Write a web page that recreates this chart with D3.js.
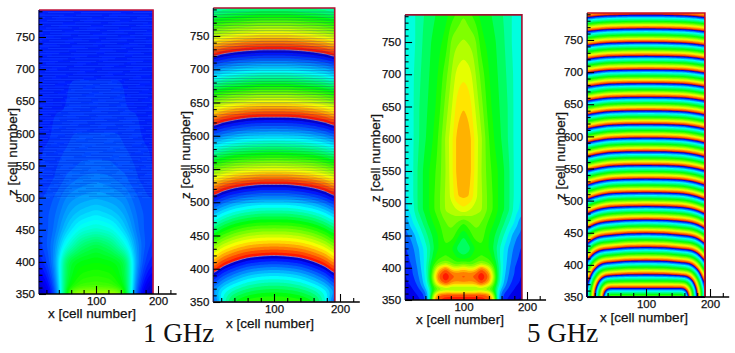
<!DOCTYPE html>
<html>
<head>
<meta charset="utf-8">
<script src="https://cdn.jsdelivr.net/npm/d3@7"></script>
<style>
  html, body { margin: 0; padding: 0; background: #fff; }
  svg { display: block; }
  .tick-label, .axis-label { font-family: "Liberation Sans", Arial, sans-serif; fill: #111; stroke: #111; stroke-width: .25px; }
  .freq-label { font-family: "Liberation Serif", serif; fill: #111; }
</style>
</head>
<body>
<script>
// ---- data ----
// 1 GHz amplitude (colour level, half of the symmetric domain, x = 8..100)
const amp1X = [8, 18, 26, 34, 42, 50, 60, 75, 100];
const amp1Z = [350, 360, 380, 400, 425, 450, 475, 500, 525, 550, 600, 650, 700, 750, 792];
const amp1Values = [
  [.02, .04, .10, .15, .27, .44, .66, .70, .70],
  [.05, .07, .12, .17, .29, .44, .52, .56, .57],
  [.09, .11, .15, .20, .30, .43, .48, .52, .53],
  [.12, .14, .17, .22, .30, .42, .47, .49, .50],
  [.14, .16, .18, .21, .26, .31, .35, .41, .45],
  [.15, .16, .17, .19, .22, .25, .28, .32, .34],
  [.15, .16, .17, .18, .20, .22, .24, .26, .28],
  [.15, .15, .16, .17, .18, .20, .21, .22, .23],
  [.14, .14, .15, .15, .16, .17, .18, .19, .20],
  [.13, .14, .14, .15, .15, .16, .16, .17, .17],
  [.13, .13, .13, .14, .14, .14, .15, .15, .15],
  [.12, .12, .13, .13, .13, .13, .14, .14, .14],
  [.12, .12, .12, .12, .13, .13, .13, .13, .13],
  [.12, .12, .12, .12, .12, .12, .12, .12, .12],
  [.12, .12, .12, .12, .12, .12, .12, .12, .12]
];

// 1 GHz phase, unwrapped: whole numbers are the red/blue jumps
const phase1X = [8, 20, 40, 60, 80, 100];
const phase1Z = [350, 365, 392, 420, 470, 527, 570, 628, 670, 729, 760, 792];
const phase1Values = [
  [4.06, 4.32, 4.52, 4.58, 4.60, 4.60],
  [4.20, 4.31, 4.40, 4.46, 4.49, 4.50],
  [4.00, 4.09, 4.17, 4.23, 4.26, 4.27],
  [3.76, 3.85, 3.92, 3.97, 3.99, 4.00],
  [3.34, 3.41, 3.48, 3.52, 3.54, 3.54],
  [2.84, 2.90, 2.95, 2.98, 3.00, 3.00],
  [2.43, 2.47, 2.51, 2.53, 2.54, 2.55],
  [1.87, 1.92, 1.96, 1.99, 2.00, 2.00],
  [1.47, 1.51, 1.54, 1.56, 1.58, 1.58],
  [0.90, 0.94, 0.97, 0.99, 1.00, 1.00],
  [0.62, 0.65, 0.68, 0.70, 0.72, 0.72],
  [0.36, 0.38, 0.39, 0.40, 0.41, 0.41]
];

// 5 GHz amplitude
const amp5X = [8, 20, 30, 38, 46, 52, 60, 72, 82, 90, 100];
const amp5Z = [350, 355, 360, 364, 368, 373, 380, 386, 392, 400, 406, 415, 430, 450, 470, 490, 510, 550, 600, 650, 700, 750, 792];
const amp5Values = [
  [.03, .06, .09, .13, .28, .75, .94, .98, .98, .98, .98],
  [.05, .07, .10, .14, .29, .70, .92, .96, .96, .96, .96],
  [.06, .08, .12, .16, .30, .58, .84, .88, .88, .88, .88],
  [.06, .09, .13, .18, .32, .52, .64, .70, .68, .68, .68],
  [.07, .10, .15, .22, .35, .50, .58, .62, .60, .60, .60],
  [.08, .11, .17, .25, .38, .56, .74, .88, .78, .78, .78],
  [.09, .13, .19, .27, .41, .62, .86, .98, .88, .86, .88],
  [.09, .14, .20, .28, .42, .66, .90, 1.0, .92, .90, .92],
  [.10, .15, .21, .29, .42, .62, .86, .98, .88, .86, .88],
  [.11, .15, .22, .30, .42, .56, .74, .88, .72, .70, .76],
  [.12, .16, .23, .30, .41, .52, .60, .66, .60, .57, .60],
  [.13, .17, .24, .30, .39, .47, .54, .56, .54, .50, .48],
  [.14, .19, .25, .31, .38, .44, .50, .54, .50, .44, .38],
  [.18, .22, .30, .36, .42, .46, .50, .58, .58, .52, .45],
  [.20, .30, .36, .42, .47, .50, .54, .60, .62, .60, .55],
  [.28, .33, .42, .46, .50, .54, .58, .66, .67, .70, .74],
  [.29, .34, .42, .46, .50, .54, .58, .66, .72, .80, .81],
  [.29, .34, .42, .46, .50, .53, .57, .65, .74, .82, .84],
  [.30, .34, .40, .44, .47, .50, .55, .66, .74, .82, .84],
  [.30, .34, .40, .43, .46, .48, .52, .62, .70, .775, .80],
  [.30, .34, .39, .42, .45, .47, .50, .58, .66, .72, .74],
  [.30, .33, .38, .41, .44, .46, .48, .52, .62, .64, .66],
  [.30, .33, .38, .40, .42, .44, .46, .48, .53, .56, .60]
];

// 5 GHz phase, unwrapped
const phase5X = [8, 14, 20, 28, 36, 42, 50, 70, 100];
const phase5Z = [350, 358, 365, 375, 387, 407, 428, 450, 500, 550, 600, 650, 700, 750, 792];
const phase5Values = [
  [18.10, 18.55, 19.00, 19.61, 20.21, 20.66, 20.66, 20.66, 20.66],
  [18.07, 18.52, 18.96, 19.54, 20.07, 20.28, 20.28, 20.28, 20.28],
  [18.01, 18.44, 18.86, 19.39, 19.82, 19.95, 19.95, 19.95, 19.95],
  [17.84, 18.25, 18.63, 19.08, 19.38, 19.44, 19.46, 19.48, 19.48],
  [17.56, 17.93, 18.26, 18.60, 18.78, 18.80, 18.84, 18.90, 18.92],
  [16.95, 17.25, 17.50, 17.72, 17.82, 17.84, 17.88, 17.96, 17.98],
  [16.18, 16.43, 16.62, 16.76, 16.82, 16.84, 16.88, 16.96, 16.99],
  [15.30, 15.48, 15.62, 15.74, 15.80, 15.82, 15.86, 15.94, 15.97],
  [13.10, 13.20, 13.30, 13.40, 13.48, 13.52, 13.55, 13.58, 13.60],
  [10.85, 10.93, 11.00, 11.07, 11.13, 11.17, 11.20, 11.24, 11.25],
  [ 8.55,  8.62,  8.68,  8.74,  8.80,  8.83,  8.85,  8.89,  8.90],
  [ 6.25,  6.31,  6.36,  6.41,  6.46,  6.48,  6.50,  6.53,  6.54],
  [ 3.95,  4.00,  4.04,  4.09,  4.13,  4.15,  4.16,  4.18,  4.19],
  [ 1.62,  1.66,  1.70,  1.74,  1.77,  1.79,  1.80,  1.83,  1.84],
  [-0.30, -0.27, -0.24, -0.21, -0.19, -0.18, -0.17, -0.15, -0.14]
];

const xMajorTicks = [100, 200];
const xMinorTicks = [20, 40, 60, 80, 120, 140, 160, 180, 220];
const zMajorTicks = [350, 400, 450, 500, 550, 600, 650, 700, 750];
const zMinorTicks = [360, 370, 380, 390, 410, 420, 430, 440, 460, 470, 480, 490, 510, 520, 530, 540,
  560, 570, 580, 590, 610, 620, 630, 640, 660, 670, 680, 690, 710, 720, 730, 740, 760, 770, 780, 790];

// colour maps, levels and colours
const colorValues = ['#0000a0', '#0000ff', '#00ffff', '#00ff00', '#ffff00', '#ff0000'];
const ampLevels = [0, .1, .3, .5, .75, 1];
const phase1Levels = [0, .04, .31, .53, .78, 1];
const phase5Levels = [0, .03, .22, .48, .75, 1];

const width = 735;
const height = 353;
const xMin = 8, xMax = 192, xAxisEnd = 230, zMin = 350, zMax = 792;
const cellStep = 2;   // contour raster, in cells

const colorMap = levels => d3.scaleLinear().domain(levels).range(colorValues).clamp(true);

const svg = d3.select('body').append('svg')
  .attr('width', width)
  .attr('height', height);

// x values are only typed up to the middle, the right half is the mirror
function mirrorColumns(xs, rows) {
  const allX = xs.concat(xs.slice(0, -1).reverse().map(x => 200 - x));
  const allRows = rows.map(r => r.concat(r.slice(0, -1).reverse()));
  return {xs: allX, rows: allRows};
}

// puts the uneven read-off grid on an even raster for d3.contours
function rasterize(xs, zs, rows, n, m) {
  const out = new Float64Array(n * m);
  const cell = (list, v) => {
    const i = Math.max(0, Math.min(list.length - 2, d3.bisectRight(list, v) - 1));
    return [i, Math.min(1, (v - list[i]) / (list[i + 1] - list[i]))];
  };
  for (let j = 0; j < m; j++) {
    const [zi, zt] = cell(zs, Math.min(zMax, zMin + j * cellStep));
    for (let i = 0; i < n; i++) {
      const [xi, xt] = cell(xs, Math.min(xMax, xMin + i * cellStep));
      const a = rows[zi][xi] * (1 - xt) + rows[zi][xi + 1] * xt;
      const b = rows[zi + 1][xi] * (1 - xt) + rows[zi + 1][xi + 1] * xt;
      out[i + j * n] = a * (1 - zt) + b * zt;
    }
  }
  return out;
}

function drawPanel(p) {
  const x = d3.scaleLinear().domain([100, 200]).range(p.xRange);
  const z = d3.scaleLinear().domain([350, 750]).range(p.zRange);

  const grid = mirrorColumns(p.gridX, p.values);
  const n = Math.ceil((xMax - xMin) / cellStep) + 1;
  const m = Math.ceil((zMax - zMin) / cellStep) + 1;
  const raster = rasterize(grid.xs, p.gridZ, grid.rows, n, m);
  d3.blur2({data: raster, width: n, height: m}, p.blur);

  // contours works in raster space, these bring it back to cell numbers
  const xOfIndex = d3.scaleLinear().domain([.5, n - .5]).range([xMin, xMax]).clamp(true);
  const zOfIndex = d3.scaleLinear().domain([.5, m - .5]).range([zMin, zMax]).clamp(true);
  const path = d3.geoPath(d3.geoTransform({
    point(a, b) { this.stream.point(x(xOfIndex(a)), z(zOfIndex(b))); }
  }));

  const lo = Math.floor(d3.min(raster));
  const hi = Math.ceil(d3.max(raster));
  const thresholds = d3.range(Math.round((hi - lo) * p.bands)).map(i => lo + i / p.bands);
  const bands = d3.contours().size([n, m]).smooth(true).thresholds(thresholds)(raster);

  const g = svg.append('g').attr('class', 'panel');
  const field = g.append('g').style('filter', 'blur(0.45px)');

  // ascending order, each band paints over the one below it
  field.selectAll('path')
    .data(bands)
    .enter()
    .append('path')
    .attr('d', path)
    .attr('fill', d => {
      const level = d.value + .5 / p.bands;
      return p.color(level - Math.floor(level));
    });

  // thin line along the red/blue jump
  if (p.front) {
    field.append('g').selectAll('path')
      .data(bands.filter(d => Math.abs(d.value - Math.round(d.value)) < 1e-6 && d.value > lo))
      .enter()
      .append('path')
      .attr('d', path)
      .attr('fill', 'none')
      .attr('stroke', p.front)
      .attr('stroke-width', p.frontWidth);
  }

  // horizontal streaks in the 1 GHz plots
  if (p.streaks) {
    field.append('g').selectAll('line')
      .data(p.streaks.flatMap(s => d3.range(s.from, s.to, s.step).map(v => ({z: v, s}))))
      .enter()
      .append('line')
      .attr('x1', x(xMin)).attr('x2', x(xMax))
      .attr('y1', d => z(d.z)).attr('y2', d => z(d.z))
      .attr('stroke', d => d.s.color)
      .attr('stroke-width', 1)
      .attr('stroke-opacity', d => d.s.opacity)
      .attr('stroke-dasharray', d => d.s.dash)
      .attr('stroke-dashoffset', d => d.z * 7);   // so the gaps don't line up in columns
  }

  // red frame on top and right
  g.append('path')
    .attr('d', `M${x(xMin)},${z(zMax)}H${x(xMax)}V${z(zMin)}`)
    .attr('fill', 'none')
    .attr('stroke', p.frame)
    .attr('stroke-width', 1.6);

  // axes, all ticks point into the plot
  const axisG = g.append('g').attr('transform', `translate(0,${z(zMin)})`);
  const xMajor = d3.axisBottom(x).tickValues(xMajorTicks).tickSizeInner(-8).tickSizeOuter(0).tickPadding(3);
  const xMinor = d3.axisBottom(x).tickValues(xMinorTicks).tickSizeInner(-4).tickSizeOuter(0).tickFormat('');
  axisG.call(xMajor);
  axisG.append('g').call(xMinor).select('.domain').remove();
  axisG.select('.domain').attr('d', `M${x(xMin)},0H${x(xAxisEnd)}`).attr('stroke', '#000').attr('stroke-width', 1.5);
  axisG.selectAll('text').attr('class', 'tick-label').attr('fill', null).attr('font-size', 11.5).attr('font-family', null);

  const yG = g.append('g').attr('transform', `translate(${x(xMin)},0)`);
  const zMajor = d3.axisLeft(z).tickValues(zMajorTicks).tickSizeInner(-7).tickSizeOuter(0).tickPadding(4);
  const zMinor = d3.axisLeft(z).tickValues(zMinorTicks).tickSizeInner(-3.5).tickSizeOuter(0).tickFormat('');
  yG.call(zMajor);
  yG.append('g').call(zMinor).select('.domain').remove();
  yG.select('.domain').attr('d', `M0,${z(zMax)}V${z(zMin)}`).attr('stroke', '#003').attr('stroke-width', 1);
  yG.selectAll('text').attr('class', 'tick-label').attr('fill', null).attr('font-size', 11.5).attr('font-family', null);

  g.selectAll('.tick line').attr('stroke', '#000').attr('stroke-width', 1.1);

  g.append('text')
    .attr('class', 'axis-label')
    .attr('x', p.xLabel[0])
    .attr('y', p.xLabel[1])
    .attr('text-anchor', 'middle')
    .attr('font-size', 13.5)
    .text('x [cell number]');

  g.append('text')
    .attr('class', 'axis-label')
    .attr('transform', `translate(${p.zLabel[0]},${p.zLabel[1]}) rotate(-90)`)
    .attr('text-anchor', 'middle')
    .attr('font-size', 13.5)
    .text('z [cell number]');
}

drawPanel({
  gridX: amp1X, gridZ: amp1Z, values: amp1Values, bands: 60, blur: 2, color: colorMap(ampLevels),
  xRange: [96, 158], zRange: [294, 37],
  xLabel: [92, 318], zLabel: [17, 152], frame: '#c0143c',
  streaks: [
    {from: 500, to: 790, step: 4, opacity: .18, color: '#40a0ff', dash: '26 7 40 12'},
    {from: 502, to: 790, step: 4, opacity: .22, color: '#0018b0', dash: '36 9 22 14'}
  ]
});
drawPanel({
  gridX: phase1X, gridZ: phase1Z, values: phase1Values, bands: 24, blur: 2, color: colorMap(phase1Levels),
  xRange: [274, 340], zRange: [302, 36],
  xLabel: [270, 328], zLabel: [190, 155], frame: '#b01030', front: '#a8a0c8', frontWidth: .7,
  streaks: [
    {from: 500, to: 650, step: 4, opacity: .2, color: '#20308a'},
    {from: 650, to: 790, step: 4, opacity: .32, color: '#20308a'}
  ]
});
drawPanel({
  gridX: amp5X, gridZ: amp5Z, values: amp5Values, bands: 20, blur: .7, color: colorMap(ampLevels),
  xRange: [463.5, 527], zRange: [300, 42],
  xLabel: [460, 324], zLabel: [380, 158], frame: '#a01030'
});
drawPanel({
  gridX: phase5X, gridZ: phase5Z, values: phase5Values, bands: 16, blur: 1, color: colorMap(phase5Levels),
  xRange: [646, 710], zRange: [297, 40],
  xLabel: [644, 322], zLabel: [565, 156], frame: '#c81020', front: '#10105a', frontWidth: .4
});

svg.append('text').attr('class', 'freq-label').attr('x', 143).attr('y', 342).attr('font-size', 27).text('1 GHz');
svg.append('text').attr('class', 'freq-label').attr('x', 527).attr('y', 342).attr('font-size', 27).text('5 GHz');
</script>
</body>
</html>
